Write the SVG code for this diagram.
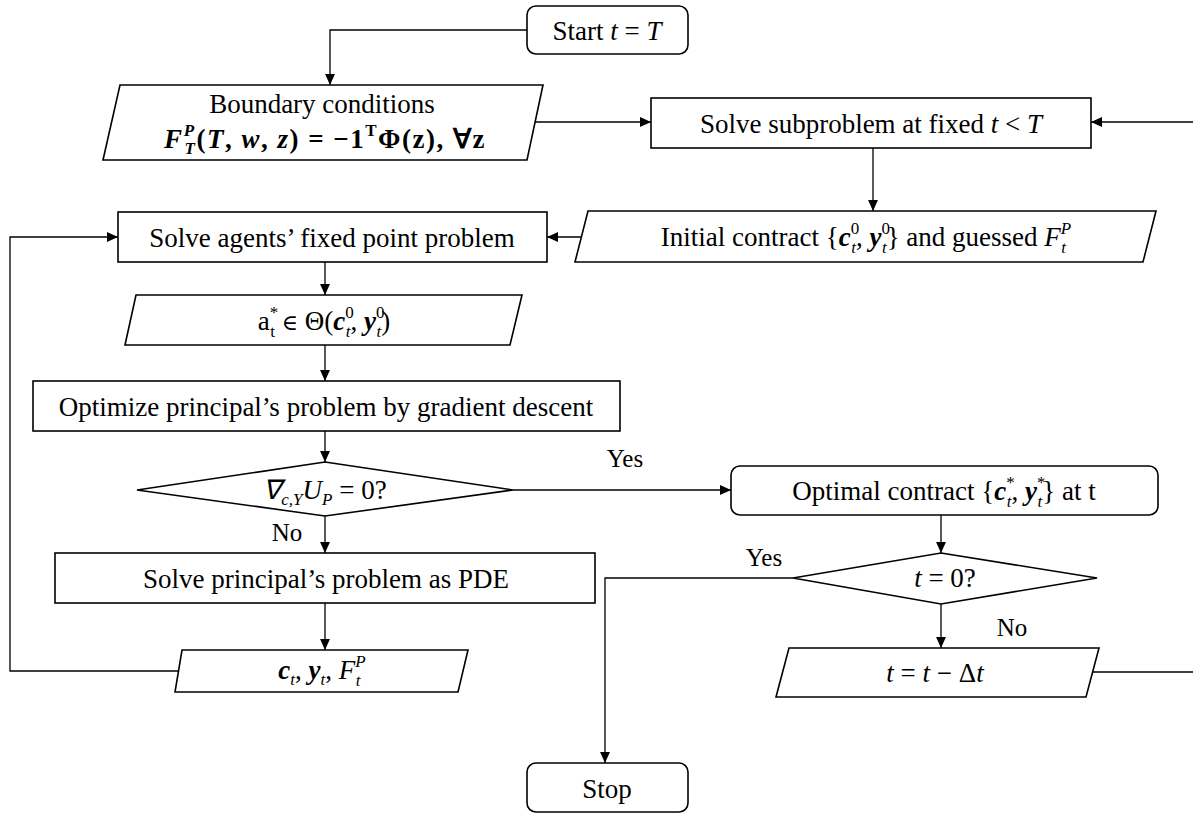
<svg xmlns="http://www.w3.org/2000/svg" width="1193" height="814" viewBox="0 0 1193 814">
<style>
.s{fill:#fff;stroke:#000;stroke-width:1.6}
.c{fill:none;stroke:#000;stroke-width:1.3}
text{font-family:"Liberation Serif","Times New Roman",serif;font-size:27px;fill:#000}
.m{text-anchor:middle}
.i{font-style:italic}
.b{font-weight:bold}
.sc{font-size:17px}
.lb{font-size:25px}
.sym{font-family:"DejaVu Serif",serif;font-size:22px}
</style>
<defs>
<marker id="a" viewBox="0 0 10 10" refX="10" refY="5" markerWidth="11" markerHeight="11" markerUnits="userSpaceOnUse" orient="auto">
<path d="M0,0.5 L10,5 L0,9.5 Z" fill="#000"/>
</marker>
</defs>
<rect width="1193" height="814" fill="#fff"/>
<g id="connectors">
<path class="c" d="M527,30 H330 V85" marker-end="url(#a)"/>
<path class="c" d="M535,122 H651" marker-end="url(#a)"/>
<path class="c" d="M1193,122 H1091" marker-end="url(#a)"/>
<path class="c" d="M873,148 V211" marker-end="url(#a)"/>
<path class="c" d="M582,237 H547" marker-end="url(#a)"/>
<path class="c" d="M325,262 V295" marker-end="url(#a)"/>
<path class="c" d="M325,345 V381" marker-end="url(#a)"/>
<path class="c" d="M325,431 V462" marker-end="url(#a)"/>
<path class="c" d="M513,490 H731" marker-end="url(#a)"/>
<path class="c" d="M325,516 V553" marker-end="url(#a)"/>
<path class="c" d="M325,603 V650" marker-end="url(#a)"/>
<path class="c" d="M179,671 H10 V237 H118" marker-end="url(#a)"/>
<path class="c" d="M941,515 V553" marker-end="url(#a)"/>
<path class="c" d="M793,578 H605 V763" marker-end="url(#a)"/>
<path class="c" d="M941,604 V648" marker-end="url(#a)"/>
<path class="c" d="M1093,672 H1193"/>
<text x="625" y="467" class="m lb">Yes</text>
<text x="764" y="566" class="m lb">Yes</text>
<text x="287" y="541" class="m lb">No</text>
<text x="1012" y="636" class="m lb">No</text>
</g>
<g id="start">
<rect class="s" x="527" y="6" width="161" height="48" rx="9"/>
<text x="607" y="40" class="m">Start <tspan class="i">t</tspan> = <tspan class="i">T</tspan></text>
</g>
<g id="boundary">
<polygon class="s" points="120,85 543,85 527,160 103,160"/>
<text x="322" y="113" class="m">Boundary conditions</text>
<text x="325" y="148" class="m b" style="letter-spacing:1.5px"><tspan class="i">F</tspan><tspan class="sc i" dy="-12">P</tspan><tspan class="sc i" dx="-11" dy="18">T</tspan><tspan dy="-6">(<tspan class="i">T</tspan>, <tspan class="i">w</tspan>, <tspan class="i">z</tspan>) = −1</tspan><tspan class="sc" dy="-12">T</tspan><tspan dy="12">Φ(z), ∀z</tspan></text>
</g>
<g id="subproblem">
<rect class="s" x="651" y="98" width="440" height="50"/>
<text x="871" y="133" class="m">Solve subproblem at fixed <tspan class="i">t</tspan> &lt; <tspan class="i">T</tspan></text>
</g>
<g id="initial">
<polygon class="s" points="588,211 1156,211 1143,262 575,262"/>
<text x="866" y="246" class="m">Initial contract {<tspan class="b i">c</tspan><tspan class="sc" dy="-12">0</tspan><tspan class="sc i" dx="-8" dy="19">t</tspan><tspan dy="-7">, </tspan><tspan class="b i">y</tspan><tspan class="sc" dy="-12">0</tspan><tspan class="sc i" dx="-8" dy="19">t</tspan><tspan dy="-7">} and guessed </tspan><tspan class="i">F</tspan><tspan class="sc i" dy="-12">P</tspan><tspan class="sc i" dx="-10" dy="19">t</tspan></text>
</g>
<g id="agents">
<rect class="s" x="118" y="212" width="429" height="50"/>
<text x="332" y="247" class="m">Solve agents’ fixed point problem</text>
</g>
<g id="action">
<polygon class="s" points="136,295 522,295 510,345 125,345"/>
<text x="324" y="330" class="m">a<tspan class="sc" dy="-12">*</tspan><tspan class="sc" dx="-8" dy="19">t</tspan><tspan dy="-7"> </tspan><tspan class="sym">∈</tspan><tspan> Θ(</tspan><tspan class="b i">c</tspan><tspan class="sc" dy="-12">0</tspan><tspan class="sc i" dx="-8" dy="19">t</tspan><tspan dy="-7">, </tspan><tspan class="b i">y</tspan><tspan class="sc" dy="-12">0</tspan><tspan class="sc i" dx="-8" dy="19">t</tspan><tspan dy="-7">)</tspan></text>
</g>
<g id="optimize">
<rect class="s" x="33" y="381" width="587" height="50"/>
<text x="326" y="416" class="m">Optimize principal’s problem by gradient descent</text>
</g>
<g id="gradcheck">
<polygon class="s" points="325,462 513,490 325,516 137,490"/>
<text x="325" y="499" class="m"><tspan class="i">∇</tspan><tspan class="sc i" dy="6">c,Y</tspan><tspan class="i" dy="-6">U</tspan><tspan class="sc i" dy="6">P</tspan><tspan dy="-6"> = 0?</tspan></text>
</g>
<g id="pde">
<rect class="s" x="55" y="553" width="540" height="50"/>
<text x="326" y="588" class="m">Solve principal’s problem as PDE</text>
</g>
<g id="result">
<polygon class="s" points="182,650 468,650 458,692 175,692"/>
<text x="322" y="679" class="m"><tspan class="b i">c</tspan><tspan class="sc i" dy="6">t</tspan><tspan dy="-6">, </tspan><tspan class="b i">y</tspan><tspan class="sc i" dy="6">t</tspan><tspan dy="-6">, </tspan><tspan class="i">F</tspan><tspan class="sc i" dy="-12">P</tspan><tspan class="sc i" dx="-10" dy="19">t</tspan></text>
</g>
<g id="optimal">
<rect class="s" x="731" y="466" width="427" height="49" rx="9"/>
<text x="944" y="500" class="m">Optimal contract {<tspan class="b i">c</tspan><tspan class="sc" dy="-12">*</tspan><tspan class="sc i" dx="-8" dy="19">t</tspan><tspan dy="-7">, </tspan><tspan class="b i">y</tspan><tspan class="sc" dy="-12">*</tspan><tspan class="sc i" dx="-8" dy="19">t</tspan><tspan dy="-7">} at t</tspan></text>
</g>
<g id="timecheck">
<polygon class="s" points="941,553 1097,578 941,604 793,578"/>
<text x="945" y="587" class="m"><tspan class="i">t</tspan> = 0?</text>
</g>
<g id="step">
<polygon class="s" points="789,648 1099,648 1086,697 776,697"/>
<text x="935" y="682" class="m"><tspan class="i">t</tspan> = <tspan class="i">t</tspan> − Δ<tspan class="i">t</tspan></text>
</g>
<g id="stop">
<rect class="s" x="527" y="763" width="161" height="49" rx="9"/>
<text x="607" y="798" class="m">Stop</text>
</g>
</svg>
